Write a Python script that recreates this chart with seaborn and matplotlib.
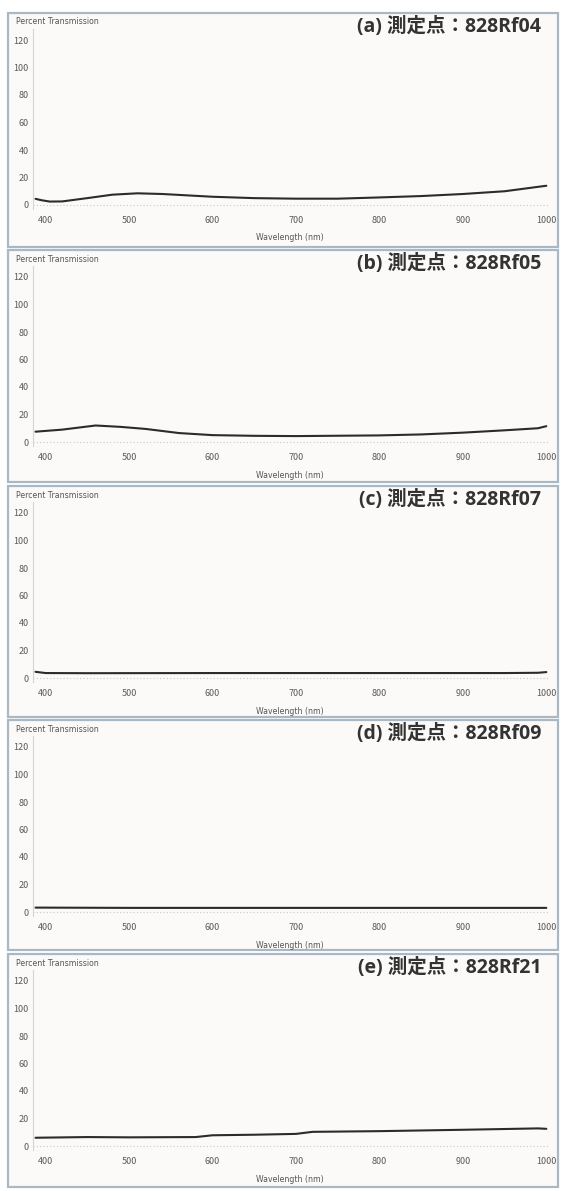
import numpy as np
import pandas as pd
import matplotlib
matplotlib.use("Agg")
import matplotlib.pyplot as plt
from matplotlib.patches import Rectangle
import seaborn as sns

sns.set_style("white")
plt.rcParams['font.family'] = ['Noto Sans CJK JP', 'DejaVu Sans']

# transmission spectra (wavelength nm, percent transmission)
wl_a = [388, 395, 405, 420, 450, 480, 510, 540, 570, 600, 650, 700, 750, 800, 850, 900, 950, 1000]
pt_a = [4.5, 3.5, 2.5, 2.6, 5.0, 7.5, 8.5, 8.0, 7.0, 6.0, 5.0, 4.6, 4.6, 5.5, 6.5, 8.0, 10.0, 14.0]

wl_b = [388, 420, 460, 490, 520, 560, 600, 650, 700, 800, 850, 900, 950, 990, 1000]
pt_b = [7.5, 9.0, 12.0, 11.0, 9.5, 6.5, 5.0, 4.5, 4.3, 4.8, 5.5, 6.8, 8.5, 10.0, 11.5]

wl_c = [388, 400, 450, 600, 800, 950, 990, 1000]
pt_c = [4.5, 3.6, 3.5, 3.6, 3.6, 3.6, 3.8, 4.3]

wl_d = [388, 500, 700, 900, 1000]
pt_d = [3.2, 3.0, 3.0, 3.0, 3.0]

wl_e = [388, 450, 500, 580, 600, 650, 700, 720, 800, 900, 990, 1000]
pt_e = [6.0, 6.5, 6.3, 6.5, 7.8, 8.2, 8.8, 10.3, 10.8, 11.8, 12.8, 12.5]

labels = ["(a) 測定点：828Rf04", "(b) 測定点：828Rf05", "(c) 測定点：828Rf07",
          "(d) 測定点：828Rf09", "(e) 測定点：828Rf21"]
series = [(wl_a, pt_a), (wl_b, pt_b), (wl_c, pt_c), (wl_d, pt_d), (wl_e, pt_e)]
x_ticks = [400, 500, 600, 700, 800, 900, 1000]
y_ticks = [0, 20, 40, 60, 80, 100, 120]

# panel frames, top and bottom in pixels
panels = [(13, 247), (250, 482), (486, 717), (720, 950), (954, 1187)]

W, H = 561, 1191
fig = plt.figure(figsize=(W / 100, H / 100), dpi=100)
fig.patch.set_facecolor("white")

def fx(px):
  return px / W

def fy(py):
  return 1 - py / H

ylo, yhi = -3, 128
for (top, bot), lab, (wl, pt) in zip(panels, labels, series):
  fig.patches.append(Rectangle((fx(8), fy(bot)), fx(550), (bot - top) / H,
                               transform=fig.transFigure, facecolor="#fbfaf8",
                               edgecolor="#aab8c3", lw=1.6, zorder=-5))
  # y=120 at top+27, y=0 at top+192
  scale = 165 / 120
  ax_top = top + 192 - yhi * scale
  ax_bot = top + 192 - ylo * scale
  ax = fig.add_axes([fx(33), fy(ax_bot), fx(548 - 33), (ax_bot - ax_top) / H])
  ax.set_facecolor("none")
  ax.set_zorder(2)

  df = pd.DataFrame({"Wavelength": wl, "Transmission": pt})
  sns.lineplot(data=df, x="Wavelength", y="Transmission", ax=ax,
               color="#2b2b2b", lw=1.5)
  ax.axhline(0, color="#c8c8c8", ls=(0, (1, 2)), lw=0.8, zorder=0)

  ax.set_xlim(385, 1002)
  ax.set_ylim(ylo, yhi)
  ax.set_xticks(x_ticks)
  ax.set_yticks(y_ticks)
  ax.tick_params(axis="both", labelsize=6.5, labelcolor="#5a5a5a",
                 length=1.5, color="#cccccc", width=0.6)
  ax.tick_params(axis="x", pad=5, length=0)
  ax.tick_params(axis="y", pad=1.5)
  for s in ["top", "right", "bottom"]:
    ax.spines[s].set_visible(False)
  ax.spines["left"].set_color("#d5d5d5")
  ax.spines["left"].set_linewidth(0.8)
  ax.set_xlabel("")
  ax.set_ylabel("")

  fig.text(fx(16), fy(top + 9), "Percent Transmission", fontsize=5.6,
           color="#555555", va="center", ha="left", family=["DejaVu Sans"])
  fig.text(fx(290), fy(top + 225), "Wavelength (nm)", fontsize=5.6,
           color="#555555", va="center", ha="center", family=["DejaVu Sans"])
  fig.text(fx(541), fy(top + 14), lab, fontsize=14, fontweight="bold",
           color="#333333", va="center", ha="right",
           family=["Open Sans", "Noto Sans CJK JP"])

fig.savefig("out.png", dpi=100)
